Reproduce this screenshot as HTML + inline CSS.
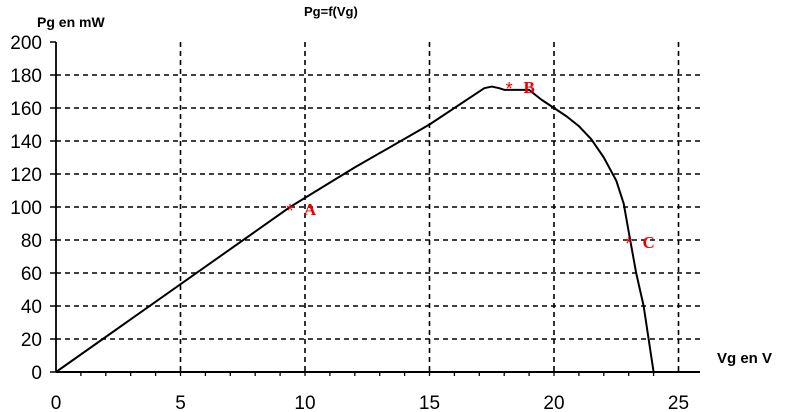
<!DOCTYPE html>
<html><head><meta charset="utf-8"><style>
body{margin:0;background:#fff;}
svg{display:block;font-family:"Liberation Sans",Arial,sans-serif;}
</style></head><body>
<svg width="785" height="412">
<g id="grid"></g>
<g id="axes"></g>
<text x="37" y="27" font-size="14" font-weight="bold">Pg en mW</text>
<text x="304" y="16" font-size="13" font-weight="bold">Pg=f(Vg)</text>
<text x="717" y="363" font-size="15" font-weight="bold">Vg en V</text>
<g id="series"></g>
<g id="marks"></g>
</svg>
<script>
const xTicks=[0,5,10,15,20,25];
const yTicks=[0,20,40,60,80,100,120,140,160,180,200];
const curveV=[0,9.4,12,15,17.2,17.5,17.8,18,19,19.5,20,20.5,21,21.5,22,22.5,22.8,23,23.3,23.6,23.8,24];
const curveP=[0,100,124,150,172,173,172,171,171,165,160,155,149,141,130,116,102,85,60,40,20,0];
const ptLabels=["A","B","C"];
const ptV=[9.4,18.2,23];
const ptP=[100,174,80];
const NS="http://www.w3.org/2000/svg";
const X=v=>56+v*24.9, Y=p=>372-p*1.65;
function el(t,a,parent){const e=document.createElementNS(NS,t);for(const k in a)e.setAttribute(k,a[k]);parent.appendChild(e);return e;}
const grid=document.getElementById('grid'),axes=document.getElementById('axes'),series=document.getElementById('series'),marks=document.getElementById('marks');
yTicks.forEach(t=>{
  if(t>0&&t<200){const l=el('line',{x1:X(0),x2:700,y1:Y(t),y2:Y(t),stroke:'#000','stroke-width':1.6,'stroke-dasharray':'5,4'},grid);
  
  }
  el('line',{x1:X(0)-6,x2:X(0),y1:Y(t),y2:Y(t),stroke:'#000','stroke-width':1.5},axes);
  const tx=el('text',{x:X(0)-14,y:Y(t)+7,'font-size':19,'text-anchor':'end'},axes);tx.textContent=t;
  
  
});
xTicks.forEach(t=>{
  if(t>0){const l=el('line',{x1:X(t),x2:X(t),y1:Y(200),y2:Y(0),stroke:'#000','stroke-width':1.6,'stroke-dasharray':'5,4'},grid);
  
  }
  const tx=el('text',{x:X(t),y:Y(0)+37,'font-size':19,'text-anchor':'middle'},axes);tx.textContent=t;
  
  
});
for(let i=1;i<25;i++)el('line',{x1:X(i),x2:X(i),y1:Y(0),y2:Y(0)+4,stroke:'#000','stroke-width':1.3},axes);
el('line',{x1:X(0),x2:X(0),y1:Y(200),y2:Y(0),stroke:'#000','stroke-width':1.8},axes);
el('line',{x1:X(0),x2:700,y1:Y(0),y2:Y(0),stroke:'#000','stroke-width':2},axes);
const c=el('polyline',{points:curveV.map((v,i)=>X(v)+','+Y(curveP[i])).join(' '),fill:'none',stroke:'#000','stroke-width':2,'stroke-linejoin':'round'},series);


ptV.forEach((v,i)=>{
  const s=el('text',{x:X(v),y:Y(ptP[i])+10,'font-size':18,fill:'#e00','text-anchor':'middle'},marks);s.textContent='*';
  
  
  const t=el('text',{x:X(v)+20,y:Y(ptP[i])+8,'font-size':17,'font-weight':'bold',fill:'#e00','font-family':'Liberation Serif,serif','text-anchor':'middle'},marks);t.textContent=ptLabels[i];
  
  
});
</script>
</body></html>
